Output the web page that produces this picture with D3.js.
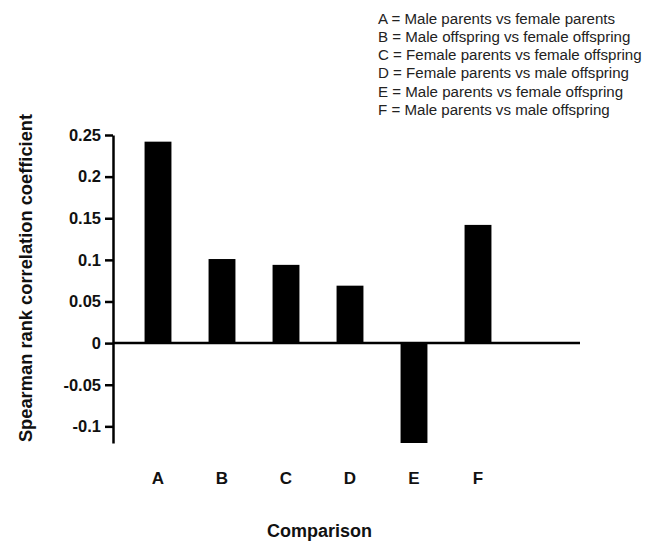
<!DOCTYPE html>
<html>
<head>
<meta charset="utf-8">
<script src="https://cdn.jsdelivr.net/npm/d3@7"></script>
<style>
  body { margin: 0; background: #fff; }
  svg { display: block; font-family: "Liberation Sans", Arial, sans-serif; }
</style>
</head>
<body>
<svg width="655" height="541"></svg>
<script>
const WIDTH = 655;
const HEIGHT = 541;
const AXIS_X = 113;
const ZERO_END = 580;

// data
const categories = ["A", "B", "C", "D", "E", "F"];
const coefficients = [0.242, 0.101, 0.094, 0.069, -0.12, 0.142];
const yTicks = [-0.1, -0.05, 0, 0.05, 0.1, 0.15, 0.2, 0.25];
const legendLines = [
   "A = Male parents vs female parents",
   "B = Male offspring vs female offspring",
   "C = Female parents vs female offspring",
   "D = Female parents vs male offspring",
   "E = Male parents vs female offspring",
   "F = Male parents vs male offspring"
];

const svg = d3.select("svg");

const yScale = d3.scaleLinear()
   .domain([-0.12, 0.25])
   .range([443, 135]);

const xScale = d3.scaleBand()
   .domain(categories)
   .range([126, 510])
   .paddingInner(0.58)
   .paddingOuter(0.29);

// bars
svg.append("g")
   .selectAll("rect")
   .data(categories)
   .enter()
   .append("rect")
   .attr("x", d => xScale(d))
   .attr("width", xScale.bandwidth())
   .attr("y", (d, i) => yScale(Math.max(0, coefficients[i])))
   .attr("height", (d, i) => Math.abs(yScale(coefficients[i]) - yScale(0)))
   .attr("fill", "#000");

// zero line
svg.append("line")
   .attr("x1", AXIS_X)
   .attr("x2", ZERO_END)
   .attr("y1", yScale(0))
   .attr("y2", yScale(0))
   .attr("stroke", "#000")
   .attr("stroke-width", 2.5);

// y axis
const gy = svg.append("g")
   .attr("transform", `translate(${AXIS_X},0)`)
   .call(d3.axisLeft(yScale)
      .tickValues(yTicks)
      .tickSize(8)
      .tickPadding(4)
      .tickSizeOuter(0)
      .tickFormat(d => String(+d.toFixed(2))));
gy.select(".domain").attr("stroke-width", 2.5);
gy.selectAll(".tick line").attr("stroke-width", 2.5);
gy.selectAll(".tick text")
   .attr("font-size", 16.5)
   .attr("font-weight", "bold")
   .attr("font-family", "Liberation Sans, Arial, sans-serif")
   .attr("fill", "#111");

// category labels
const gx = svg.append("g")
   .attr("transform", "translate(0,466)")
   .call(d3.axisBottom(xScale).tickSize(0).tickPadding(6));
gx.select(".domain").remove();
gx.selectAll(".tick text")
   .attr("font-size", 17)
   .attr("font-weight", "bold")
   .attr("font-family", "Liberation Sans, Arial, sans-serif")
   .attr("fill", "#111");

// axis titles
svg.append("text")
   .attr("x", 319.5)
   .attr("y", 537)
   .attr("text-anchor", "middle")
   .attr("font-size", 18)
   .attr("font-weight", "bold")
   .attr("fill", "#111")
   .text("Comparison");

svg.append("text")
   .attr("transform", "translate(32,278) rotate(-90)")
   .attr("text-anchor", "middle")
   .attr("font-size", 18.3)
   .attr("font-weight", "bold")
   .attr("fill", "#111")
   .text("Spearman rank correlation coefficient");

// legend text
svg.append("g")
   .selectAll("text")
   .data(legendLines)
   .enter()
   .append("text")
   .attr("x", 378)
   .attr("y", (d, i) => 23.5 + i * 18.3)
   .attr("font-size", 15.1)
   .attr("fill", "#222")
   .text(d => d);
</script>
</body>
</html>
